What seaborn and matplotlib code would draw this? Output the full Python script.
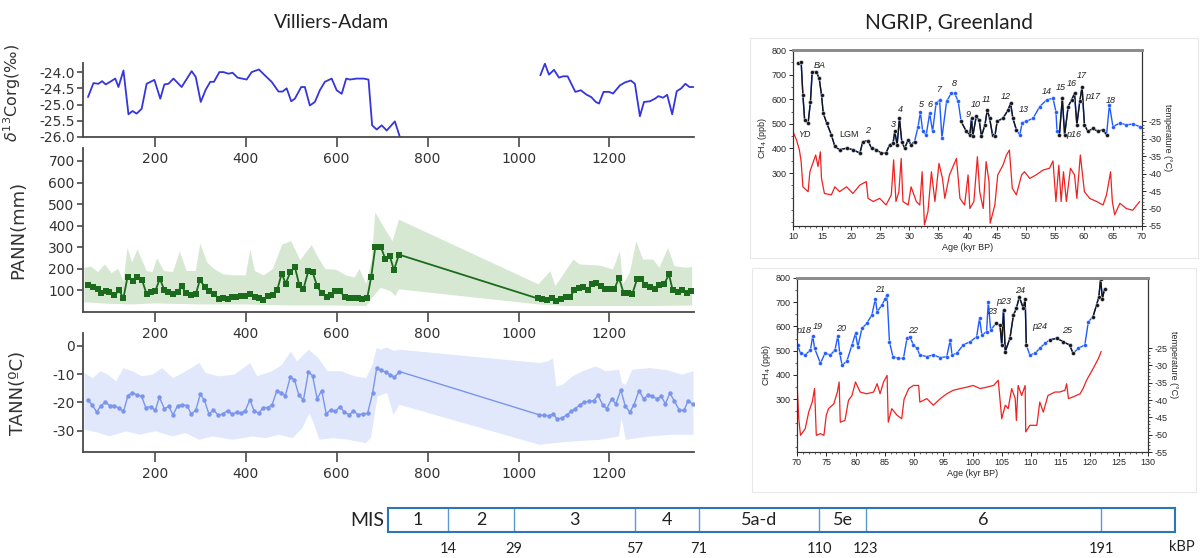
import numpy as np
import matplotlib
matplotlib.use('Agg')
import matplotlib.pyplot as plt
import seaborn as sns
from matplotlib.patches import Rectangle
from matplotlib.ticker import MultipleLocator, FixedLocator

sns.set_style('ticks')
plt.rcParams['font.family'] = ['DejaVu Sans']
plt.rcParams['axes.unicode_minus'] = False

# ---------------- Villiers-Adam data (depth index) ----------------
d13c_x1 = [53, 65, 76, 84, 92, 104, 113, 120, 131, 142, 151, 160, 171, 182, 199, 212, 221, 230, 241,
           259, 281, 290, 301, 312, 322, 330, 342, 351, 362, 371, 382, 402, 413, 429, 442, 457, 472,
           481, 490, 500, 508, 522, 530, 541, 552, 563, 574, 589, 600, 611, 621, 629, 644, 659, 670,
           678, 688, 699, 710, 728, 739]
d13c_y1 = [-24.77, -24.34, -24.36, -24.28, -24.38, -24.28, -24.20, -24.46, -23.95, -25.30, -25.20,
           -25.28, -25.13, -24.36, -24.24, -24.82, -24.38, -24.36, -24.20, -24.46, -23.97, -24.15,
           -24.92, -24.54, -24.30, -24.30, -24.00, -24.00, -24.05, -24.02, -24.17, -24.23, -24.00,
           -23.92, -24.10, -24.30, -24.60, -24.60, -24.50, -24.90, -24.82, -24.46, -24.46, -25.03,
           -24.92, -24.56, -24.30, -24.20, -24.56, -24.67, -24.20, -24.23, -24.20, -24.20, -24.23,
           -25.64, -25.77, -25.64, -25.80, -25.52, -26.00]
d13c_x2 = [1048, 1058, 1067, 1078, 1089, 1098, 1108, 1125, 1137, 1149, 1160, 1170, 1177, 1187, 1199,
           1208, 1223, 1234, 1247, 1256, 1267, 1276, 1289, 1300, 1308, 1318, 1327, 1338, 1348, 1358,
           1367, 1376, 1385]
d13c_y2 = [-24.10, -23.74, -24.08, -23.93, -24.17, -24.13, -24.13, -24.61, -24.56, -24.69, -24.77,
           -24.92, -24.97, -24.61, -24.61, -24.66, -24.41, -24.32, -24.26, -24.36, -25.36, -24.92,
           -24.90, -24.82, -24.74, -24.79, -24.70, -25.30, -24.59, -24.50, -24.36, -24.46, -24.46]

pann_x = [53, 64, 74, 82, 92, 100, 111, 121, 131, 140, 151, 161, 172, 182, 192, 201, 211, 221, 230,
          240, 250, 259, 269, 279, 290, 299, 310, 319, 330, 341, 350, 360, 370, 379, 390, 399, 410,
          420, 430, 439, 449, 459, 469, 479, 488, 498, 508, 518, 527, 538, 547, 557, 567, 578, 587,
          597, 607, 618, 627, 637, 647, 656, 667, 676, 685, 697, 707, 717, 726, 737,
          1042, 1051, 1062, 1073, 1083, 1093, 1104, 1113, 1123, 1133, 1142, 1152, 1162, 1171, 1181,
          1191, 1200, 1211, 1221, 1231, 1241, 1250, 1261, 1270, 1279, 1290, 1300, 1310, 1320, 1331,
          1339, 1350, 1360, 1370, 1379]
pann_y = [125, 117, 108, 86, 97, 92, 77, 100, 66, 163, 143, 163, 148, 82, 92, 97, 154, 102, 92,
          82, 92, 120, 86, 77, 82, 148, 117, 97, 82, 62, 65, 58, 68, 71, 74, 74, 82,
          71, 66, 54, 74, 80, 100, 178, 132, 185, 209, 123, 108, 192, 185, 120, 86, 71, 77,
          97, 97, 69, 63, 63, 66, 62, 63, 163, 302, 302, 246, 258, 194, 266,
          63, 62, 55, 66, 51, 58, 71, 71, 100, 112, 117, 102, 132, 135, 120,
          108, 108, 108, 158, 89, 89, 82, 154, 151, 123, 115, 105, 123, 128, 174,
          102, 92, 102, 89, 97]
pann_up_x = [45, 60, 75, 90, 105, 120, 131, 140, 150, 162, 172, 182, 195, 205, 220, 240, 255, 270,
             290, 300, 315, 330, 350, 370, 400, 410, 420, 440, 460, 480, 500, 520, 545, 560, 575,
             600, 620, 640, 650, 665, 677, 685, 705, 723, 737, 1044, 1070, 1081, 1121, 1135, 1179,
             1208, 1223, 1230, 1245, 1259, 1274, 1296, 1310, 1329, 1343, 1369, 1382]
pann_up_y = [205, 210, 185, 220, 180, 200, 140, 297, 230, 290, 240, 190, 185, 250, 190, 185, 280, 190,
             190, 317, 230, 200, 175, 170, 170, 290, 190, 170, 200, 312, 328, 240, 310, 250, 200,
             195, 170, 160, 200, 130, 240, 461, 389, 328, 428, 128, 189, 120, 243, 220, 215,
             197, 282, 130, 182, 328, 243, 243, 205, 297, 212, 205, 209]
pann_lo_x = [45, 100, 150, 200, 300, 400, 500, 600, 665, 676, 697, 718, 729, 737, 1044, 1100, 1200,
             1300, 1382]
pann_lo_y = [45, 38, 35, 40, 35, 35, 30, 30, 28, 60, 112, 97, 74, 105, 35, 28, 28, 28, 30]

tann_x = [52, 62, 72, 81, 91, 101, 110, 121, 131, 141, 150, 160, 171, 180, 191, 201, 210, 221, 231,
          240, 250, 260, 271, 280, 290, 300, 309, 319, 329, 340, 349, 360, 370, 380, 389, 399, 409,
          419, 429, 438, 448, 458, 468, 478, 487, 498, 507, 517, 527, 538, 547, 557, 567, 577, 587,
          597, 607, 617, 628, 637, 647, 657, 668, 679, 688, 698, 708, 717, 727, 738,
          1046, 1056, 1066, 1076, 1085, 1096, 1106, 1116, 1125, 1135, 1145, 1154, 1165, 1175, 1185,
          1194, 1205, 1214, 1225, 1235, 1245, 1254, 1265, 1275, 1285, 1294, 1304, 1314, 1323, 1333,
          1343, 1354, 1364, 1373, 1383]
tann_y = [-19.1, -20.8, -23.4, -21.2, -19.9, -21.1, -21.1, -22.0, -23.2, -17.6, -16.5, -17.3, -17.9,
          -21.8, -21.5, -22.8, -18.2, -22.2, -21.4, -24.4, -21.2, -20.8, -21.1, -24.1, -22.8, -17.1,
          -19.2, -24.1, -22.7, -24.6, -24.1, -22.9, -24.1, -23.5, -23.9, -22.9, -19.1, -23.2, -23.8,
          -21.8, -21.8, -20.8, -16.1, -16.5, -17.6, -11.1, -12.0, -17.5, -19.1, -9.1, -10.6, -18.7,
          -15.8, -24.0, -22.6, -23.2, -21.5, -23.4, -24.4, -22.9, -24.4, -24.0, -23.9, -16.7, -7.9,
          -8.7, -9.3, -10.2, -11.1, -9.1,
          -24.4, -24.6, -24.7, -24.1, -25.8, -25.5, -24.4, -23.2, -22.2, -20.8, -19.9, -19.6, -19.4,
          -17.5, -20.8, -22.2, -18.7, -20.6, -15.6, -21.4, -23.4, -20.8, -15.8, -18.7, -17.5, -17.8,
          -18.7, -17.9, -20.5, -16.7, -19.6, -22.8, -22.8, -19.4, -20.6]
tann_up_x = [45, 63, 81, 97, 115, 131, 151, 172, 195, 216, 240, 262, 298, 312, 340, 375, 410, 425,
             458, 480, 499, 513, 539, 560, 580, 610, 640, 665, 679, 688, 697, 711, 726, 738, 1047,
             1065, 1076, 1083, 1097, 1119, 1141, 1170, 1192, 1221, 1228, 1236, 1250, 1287, 1323,
             1360, 1385]
tann_up_y = [-9.6, -11.4, -9.0, -10.2, -12.6, -7.9, -9.0, -10.8, -10.2, -7.9, -11.4, -9.6, -6.1,
             -9.6, -10.8, -10.2, -6.1, -10.8, -9.0, -6.7, -2.0, -5.5, -1.4, -4.4, -9.0, -9.0, -10.8,
             -11.4, -6.7, -0.8, -1.4, -0.6, -1.8, -1.4, -6.1, -5.5, -4.4, -14.4, -13.8, -10.8, -9.0,
             -7.3, -9.0, -8.5, -13.2, -13.8, -8.5, -7.9, -8.5, -10.2, -9.0]
tann_lo_x = [45, 78, 100, 137, 166, 202, 239, 268, 298, 327, 371, 415, 444, 473, 503, 525, 540, 551,
             562, 591, 627, 664, 675, 683, 690, 711, 725, 738, 1047, 1076, 1119, 1178, 1221, 1227,
             1236, 1287, 1338, 1385]
tann_lo_y = [-29.6, -30.8, -32.0, -30.2, -31.4, -30.2, -32.0, -30.8, -33.2, -32.0, -33.2, -32.0,
             -32.6, -31.4, -32.6, -29.0, -23.8, -27.9, -33.2, -32.6, -33.2, -34.4, -32.6, -25.0,
             -17.9, -16.7, -24.4, -20.8, -35.0, -34.4, -33.8, -33.2, -32.0, -25.5, -33.2, -32.0,
             -31.4, -31.4]

# ---------------- NGRIP data (age, kyr BP) ----------------
ch4_age_a = [10.9, 11.4, 11.7, 12.0, 12.6, 13.0, 13.3, 14.0, 14.5, 14.9, 15.2, 15.8, 16.6, 17.2, 18.0,
             19.2, 20.3, 21.5, 22.0, 22.9, 23.5, 24.3, 25.2, 26.0, 26.6, 27.2, 27.5, 27.9, 28.3, 28.7,
             29.2, 29.8, 30.3, 30.9, 31.5, 31.9, 32.3, 32.9, 33.5, 34.0, 34.6, 35.2, 35.6, 36.4, 37.2,
             37.8, 38.4, 38.9, 39.8, 40.4, 40.7, 40.9, 41.5, 42.0, 42.4, 43.0, 43.4, 43.8, 44.3, 44.7,
             45.1, 46.1, 47.0, 47.4, 47.8, 48.4, 49.0, 49.4, 50.1, 51.3, 52.4, 53.6, 54.7, 55.2, 55.4,
             55.8, 56.3, 56.7, 57.3, 57.9, 58.4, 58.8, 59.3, 59.7, 60.1, 60.7, 61.6, 62.4, 63.3, 63.9,
             64.4, 65.0, 66.2, 67.3, 68.4, 69.6]
ch4_val_a = [746, 753, 618, 516, 503, 590, 712, 712, 685, 618, 543, 503, 455, 408, 395,
             401, 395, 381, 428, 431, 401, 395, 381, 381, 415, 422, 469, 415, 523, 428,
             401, 435, 415, 428, 489, 547, 469, 455, 543, 469, 584, 597, 442, 591, 624,
             624, 591, 510, 469, 455, 523, 449, 530, 516, 449, 496, 557, 523, 455, 449,
             510, 523, 557, 584, 523, 476, 455, 505, 510, 523, 570, 597, 604, 550, 469,
             455, 604, 455, 570, 597, 624, 496, 591, 651, 496, 469, 482, 469, 476, 455,
             577, 489, 503, 496, 499, 489]
black_a = [(10, 31.3), (38.6, 48.8), (55.6, 64.2)]
temp_age_a = [10.0, 10.6, 11.1, 11.4, 11.7, 12.6, 12.9, 13.4, 13.9, 14.3, 14.7, 14.9, 15.4, 16.6, 17.2,
              18.0, 19.2, 20.3, 21.5, 22.6, 22.9, 23.8, 24.9, 26.0, 26.9, 27.3, 27.7, 28.2, 28.6, 28.9,
              29.8, 30.3, 31.2, 31.8, 32.2, 32.6, 33.2, 33.8, 34.4, 35.1, 35.7, 36.1, 36.9, 38.1, 38.7,
              39.5, 40.1, 40.4, 41.1, 41.7, 42.1, 42.7, 43.2, 43.7, 43.9, 44.7, 45.2, 46.1, 46.7, 47.2,
              47.7, 48.4, 49.3, 49.8, 50.7, 51.8, 53.0, 54.1, 54.7, 55.2, 55.7, 56.1, 56.5, 57.0, 57.7,
              58.4, 58.8, 59.4, 60.1, 61.0, 62.2, 63.3, 63.9, 64.6, 64.9, 65.3, 66.2, 67.3, 68.4, 69.6]
temp_val_a = [-28.0, -30.4, -33.3, -36.6, -43.8, -45.2, -39.5, -37.1, -34.7, -38.0, -33.8, -41.4,
              -45.7, -46.1, -43.8, -45.2, -43.8, -45.7, -43.3, -42.3, -47.1, -48.0, -47.1, -49.0,
              -46.1, -36.1, -48.0, -45.2, -35.7, -48.0, -49.0, -43.8, -48.0, -49.0, -39.5, -54.7,
              -50.9, -39.5, -48.0, -37.1, -41.4, -47.1, -40.4, -35.7, -47.1, -49.0, -40.4, -50.0,
              -48.0, -35.2, -45.2, -50.0, -36.6, -42.3, -54.2, -49.0, -40.4, -37.6, -34.7, -33.3,
              -44.2, -46.1, -40.4, -39.5, -41.4, -40.4, -39.0, -38.5, -36.4, -48.0, -37.6, -48.0,
              -39.5, -48.0, -38.5, -40.4, -47.1, -34.7, -45.2, -47.1, -48.0, -49.0, -46.1, -39.5,
              -48.0, -51.8, -48.5, -50.0, -50.5, -48.0]
notes_a = [('YD', 12.0, 455), ('BA', 14.6, 739), ('LGM', 19.7, 458), ('2', 22.8, 473), ('3', 27.3, 499),
           ('4', 28.5, 557), ('5', 32.0, 580), ('6', 33.6, 580), ('7', 35.1, 641), ('8', 37.8, 665),
           ('9', 40.1, 539), ('10', 41.5, 580), ('11', 43.2, 600), ('12', 46.5, 611), ('13', 49.7, 557),
           ('14', 53.7, 631), ('15', 56.0, 649), ('16', 58.0, 662), ('17', 59.6, 695), ('p17', 61.5, 611),
           ('p16', 58.3, 458), ('18', 64.6, 593)]

ch4_age_b = [70.1, 70.6, 71.4, 72.3, 72.7, 73.0, 74.0, 74.8, 75.7, 76.5, 77.0, 77.3, 77.7, 78.5, 79.4,
             80.0, 80.4, 81.1, 81.9, 82.8, 83.4, 83.7, 84.5, 85.1, 85.4, 85.8, 86.4, 87.3, 88.2, 88.8,
             89.3, 89.9, 90.5, 91.0, 92.2, 93.3, 94.5, 95.6, 96.2, 96.5, 97.3, 98.4, 99.6, 100.7,
             101.2, 101.6, 102.4, 102.7, 103.1, 104.0, 104.7, 105.0, 105.3, 105.6, 106.4, 107.0,
             107.5, 108.0, 108.7, 109.0, 109.2, 109.8, 110.7, 111.5, 112.4, 113.2, 114.4, 115.5,
             116.6, 117.2, 118.1, 119.2, 119.8, 120.6, 121.2, 121.6, 121.9, 122.2, 122.6]
ch4_val_b = [523, 489, 482, 503, 562, 510, 448, 489, 482, 503, 562, 489, 441, 455, 523,
             571, 516, 592, 612, 647, 715, 660, 688, 715, 729, 537, 475, 468, 468, 551,
             557, 523, 510, 482, 475, 482, 471, 475, 544, 482, 489, 523, 537, 557,
             633, 564, 578, 701, 585, 612, 605, 523, 667, 496, 551, 647,
             674, 722, 674, 715, 523, 482, 489, 510, 530, 544, 551, 537,
             523, 489, 510, 523, 619, 640, 688, 722, 797, 715, 756]
black_b = [(103.5, 109.3), (113.0, 117.5), (120.4, 123.0)]
temp_age_b = [70.0, 70.3, 70.6, 71.4, 72.0, 72.6, 73.0, 73.3, 74.0, 74.6, 75.0, 75.4, 76.3, 76.9, 77.2,
              77.4, 78.2, 78.8, 79.4, 80.0, 80.8, 81.9, 83.1, 83.7, 84.2, 84.8, 85.4, 85.6, 86.2, 87.1,
              87.9, 88.3, 89.1, 89.9, 90.8, 91.0, 92.2, 93.3, 94.5, 95.6, 96.7, 97.9, 99.0, 100.1,
              101.3, 102.4, 103.6, 104.4, 105.0, 105.6, 106.1, 106.7, 107.3, 107.5, 107.8, 108.4,
              109.0, 109.1, 109.8, 111.0, 111.5, 112.1, 112.9, 114.1, 114.9, 115.8, 116.1, 116.4,
              117.2, 118.4, 118.9, 119.5, 120.6, 121.5, 122.0]
temp_val_b = [-34.8, -45.4, -50.2, -48.3, -43.5, -40.6, -36.7, -50.2, -49.7, -50.2, -44.4, -42.5,
              -41.1, -37.7, -34.8, -46.4, -45.9, -40.1, -38.7, -34.8, -37.7, -38.2, -37.7, -35.3,
              -38.2, -34.8, -32.9, -46.4, -42.5, -44.4, -45.4, -39.8, -36.7, -35.8, -35.8, -40.6,
              -39.6, -41.5, -39.6, -38.2, -37.2, -36.7, -36.3, -35.8, -36.7, -36.3, -35.8, -34.3,
              -45.4, -41.5, -42.5, -36.7, -39.6, -45.9, -35.8, -38.7, -35.8, -49.2, -47.3, -47.3,
              -40.6, -43.5, -38.7, -37.7, -37.7, -37.2, -35.3, -39.6, -39.1, -38.2, -36.7, -34.3,
              -31.0, -28.1, -26.0]
notes_b = [('p18', 71.1, 585), ('19', 73.5, 599), ('20', 77.5, 592), ('21', 84.2, 753), ('22', 89.9, 585),
           ('23', 103.4, 660), ('p23', 105.4, 704), ('24', 108.2, 747), ('p24', 111.5, 601), ('25', 116.1, 585)]

# ---------------- MIS stages ----------------
mis_bounds = [14, 29, 57, 71, 110, 123, 191]
mis_names = ['1', '2', '3', '4', '5a-d', '5e', '6', '']

W, H = 1200, 558
fig = plt.figure(figsize=(W / 100, H / 100), dpi=100)


def px_axes(x0, y0, x1, y1):
    a = fig.add_axes([x0 / W, 1 - y1 / H, (x1 - x0) / W, (y1 - y0) / H])
    a.patch.set_alpha(0)
    return a


def style_left(ax, xlim):
    ax.set_xlim(*xlim)
    ax.set_xticks([200, 400, 600, 800, 1000, 1200])
    sns.despine(ax=ax)
    for s in ['left', 'bottom']:
        ax.spines[s].set_color('#4a4a4a')
        ax.spines[s].set_linewidth(1.3)
    ax.tick_params(axis='x', length=7, width=1.2, pad=4, labelsize=10, colors='#4a4a4a', labelcolor='#333333')
    ax.tick_params(axis='y', length=4, width=1.2, pad=2, labelsize=10, colors='#4a4a4a', labelcolor='#333333')
    ax.set_xlabel('')


xl = (42, 1386)

# δ13C
ax1 = px_axes(83, 63, 694, 137)
sns.lineplot(x=d13c_x1, y=d13c_y1, ax=ax1, color='#3535dd', lw=1.3, estimator=None, sort=False)
sns.lineplot(x=d13c_x2, y=d13c_y2, ax=ax1, color='#3535dd', lw=1.3, estimator=None, sort=False)
ax1.set_ylim(-26.0, -23.72)
ax1.set_yticks([-26.0, -25.5, -25.0, -24.5, -24.0])
ax1.set_yticklabels(['%.1f' % v for v in [-26.0, -25.5, -25.0, -24.5, -24.0]])
style_left(ax1, xl)
ax1.set_ylabel(r'$\delta^{13}$Corg(‰)', fontsize=11.5, color='#333333')
ax1.yaxis.set_label_coords(-0.098, 0.6)

# PANN
ax2 = px_axes(83, 148, 694, 312)
ax2.fill(np.concatenate([pann_up_x, pann_lo_x[::-1]]), np.concatenate([pann_up_y, pann_lo_y[::-1]]),
         color='#d6e8d2', lw=0)
sns.lineplot(x=pann_x, y=pann_y, ax=ax2, color='#1c6b1c', lw=1.3, marker='s', markersize=3.8,
             markeredgewidth=0, estimator=None, sort=False)
ax2.set_ylim(0, 760)
ax2.set_yticks([100, 200, 300, 400, 500, 600, 700])
style_left(ax2, xl)
ax2.set_ylabel('PANN(mm)', fontsize=13, color='#333333')
ax2.yaxis.set_label_coords(-0.092, 0.5)

# TANN
ax3 = px_axes(83, 333, 694, 452)
ax3.fill(np.concatenate([tann_up_x, tann_lo_x[::-1]]), np.concatenate([tann_up_y, tann_lo_y[::-1]]),
         color='#e1e8fb', lw=0)
sns.lineplot(x=tann_x, y=tann_y, ax=ax3, color='#7a95ea', lw=1.0, marker='o', markersize=3.2,
             markeredgewidth=0, estimator=None, sort=False)
ax3.set_ylim(-37.5, 4.5)
ax3.set_yticks([-30, -20, -10, 0])
style_left(ax3, xl)
ax3.set_ylabel('TANN(ºC)', fontsize=13, color='#333333')
ax3.yaxis.set_label_coords(-0.092, 0.5)

fig.text(331 / W, 1 - 22 / H, 'Villiers-Adam', ha='center', va='center', fontsize=14,
         family=['Lato', 'DejaVu Sans'], color='#222222')
fig.text(949 / W, 1 - 22 / H, 'NGRIP, Greenland', ha='center', va='center', fontsize=15,
         family=['Lato', 'DejaVu Sans'], color='#222222')


def ngrip_panel(box, xlim, ylim_c, ylim_t, age, ch4, blacks, t_age, temp, notes):
    age = np.asarray(age)
    ch4 = np.asarray(ch4)
    ax = px_axes(*box)
    sns.lineplot(x=age, y=ch4, ax=ax, color='#1f5bff', lw=1.0, marker='o', markersize=2.8,
                 markeredgewidth=0.3, estimator=None, sort=False)
    for a, b in blacks:
        m = (age >= a) & (age <= b)
        sns.lineplot(x=age[m], y=ch4[m], ax=ax, color='#151515', lw=1.0, marker='o', markersize=2.8,
                     markeredgewidth=0.3, estimator=None, sort=False)
    for lab, xa, ya in notes:
        ax.text(xa, ya, lab, fontsize=6.5, ha='center', va='center', color='#222222',
                style='normal' if lab == 'LGM' else 'italic', family=['Liberation Sans'])
    axt = ax.twinx()
    axt.patch.set_alpha(0)
    sns.lineplot(x=t_age, y=temp, ax=axt, color='#ee2222', lw=0.9, estimator=None, sort=False)
    ax.set_xlim(*xlim)
    axt.set_xlim(*xlim)
    ax.set_ylim(*ylim_c)
    axt.set_ylim(*ylim_t)
    ax.set_xticks(np.arange(xlim[0], xlim[1] + 1, 5))
    ax.xaxis.set_minor_locator(MultipleLocator(1))
    ax.set_yticks([300, 400, 500, 600, 700, 800])
    ax.yaxis.set_minor_locator(MultipleLocator(50))
    axt.set_yticks([-55, -50, -45, -40, -35, -30, -25])
    axt.yaxis.set_minor_locator(FixedLocator(np.arange(-55, -24, 1)))
    for a in (ax, axt):
        a.tick_params(which='major', length=3, width=0.7, labelsize=6.5, pad=1.5)
        a.tick_params(which='minor', length=1.6, width=0.5)
        for t in a.get_xticklabels() + a.get_yticklabels():
            t.set_family(['Liberation Sans'])
        for s in a.spines.values():
            s.set_linewidth(0.8)
            s.set_color('#333333')
        a.spines['top'].set_color('#8c8c8c')
        a.spines['top'].set_linewidth(2.0)
    ax.set_xlabel('Age (kyr BP)', fontsize=6.5, labelpad=1, family=['Liberation Sans'])
    ax.set_ylabel('CH$_4$ (ppb)', fontsize=6.5, labelpad=2, family=['Liberation Sans'])
    axt.set_ylabel('temperature (°C)', fontsize=6.5, rotation=270, labelpad=8, family=['Liberation Sans'])
    return ax


ngrip_panel((793, 50, 1142, 226), (10, 70), (85, 800), (-55, -4.7), ch4_age_a, ch4_val_a, black_a,
            temp_age_a, temp_val_a, notes_a)
ngrip_panel((797, 278, 1148, 452), (70, 130), (81, 800), (-55, -4.8), ch4_age_b, ch4_val_b, black_b,
            temp_age_b, temp_val_b, notes_b)

fig.add_artist(Rectangle((750 / W, 1 - 258 / H), 448 / W, 220 / H, transform=fig.transFigure,
                         fill=False, ec='#e8e8e8', lw=0.8))
fig.add_artist(Rectangle((752 / W, 1 - 492 / H), 444 / W, 224 / H, transform=fig.transFigure,
                         fill=False, ec='#e8e8e8', lw=0.8))

# MIS bar: box widths are a layout choice, ages map piecewise onto them
mis_ages = np.array([0] + mis_bounds + [210], dtype=float)
mis_pos = np.array([0, 60, 126, 247, 311, 431, 478, 713, 787], dtype=float)


def fwd(a):
    return np.interp(a, mis_ages, mis_pos)


def inv(p):
    return np.interp(p, mis_pos, mis_ages)


axm = px_axes(388, 508, 1175, 532)
axm.set_xscale('function', functions=(fwd, inv))
axm.set_xlim(0, 210)
axm.set_ylim(0, 1)
axm.set_yticks([])
for b in mis_bounds:
    axm.axvline(b, color='#5b9bd5', lw=1.0)
for s in axm.spines.values():
    s.set_color('#2e75b6')
    s.set_linewidth(1.5)
edges = [0] + mis_bounds + [210]
for i, name in enumerate(mis_names):
    mid = inv((fwd(edges[i]) + fwd(edges[i + 1])) / 2)
    axm.text(mid, 0.5, name, ha='center', va='center', fontsize=13, family=['Lato', 'DejaVu Sans'],
             color='#222222')
axm.set_xticks(mis_bounds)
axm.set_xticklabels([str(b) for b in mis_bounds], family=['Lato', 'DejaVu Sans'])
axm.xaxis.set_minor_locator(FixedLocator([]))
axm.tick_params(axis='x', length=0, pad=7, labelsize=10.5, labelcolor='#222222')
fig.text(367 / W, 1 - 520 / H, 'MIS', ha='center', va='center', fontsize=14,
         family=['Lato', 'DejaVu Sans'], color='#222222')
fig.text(1182 / W, 1 - 547 / H, 'kBP', ha='center', va='center', fontsize=10.5,
         family=['Lato', 'DejaVu Sans'], color='#222222')

fig.savefig('out.png', dpi=100)
